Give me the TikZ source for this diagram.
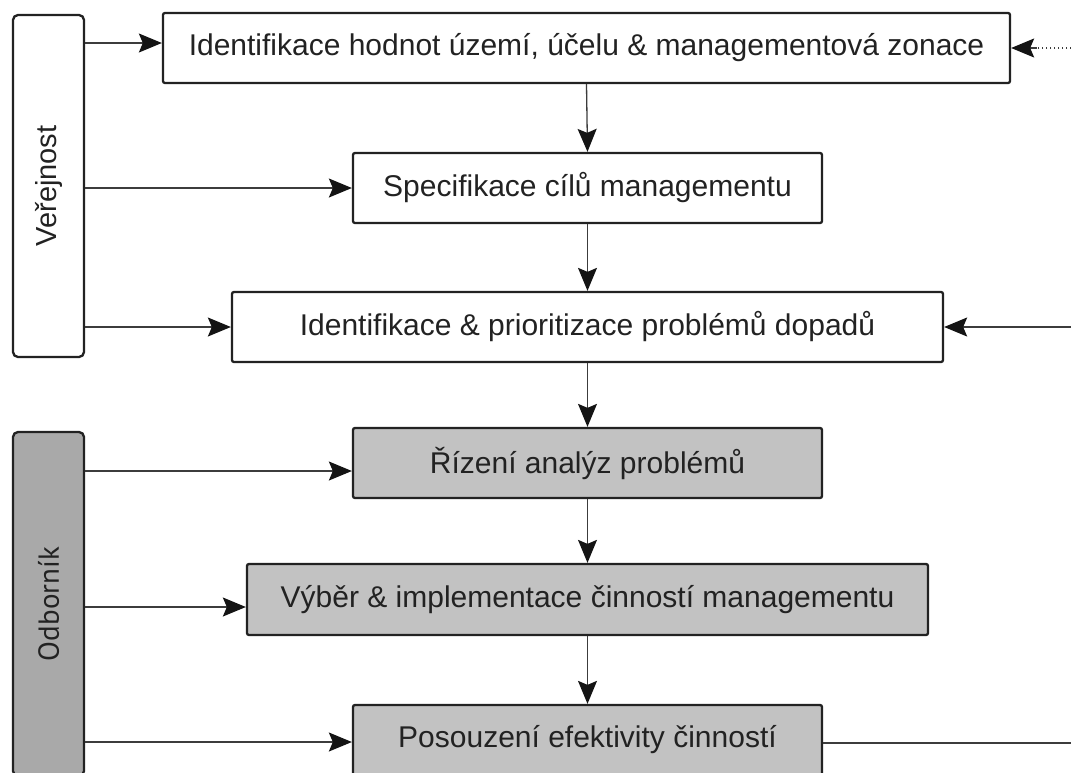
\documentclass[tikz,border=0pt]{standalone}
\usepackage{fontspec}
\setmainfont{Liberation Sans}
\newfontfamily\sidefont{PT Sans}
\usetikzlibrary{arrows.meta}
\definecolor{ink}{HTML}{222222}
\definecolor{boxgray}{HTML}{C2C2C2}
\definecolor{sidegray}{HTML}{A9A9A9}
\definecolor{wirecol}{HTML}{3C3C3C}
\definecolor{tipcol}{HTML}{141414}
\begin{document}
\begin{tikzpicture}[x=1pt,y=-1pt,
  every node/.style={font=\fontsize{30}{35}\selectfont, text=ink},
  stepbox/.style={draw=ink, line width=2.3pt, rounded corners=2pt, inner sep=0pt, fill=white, minimum height=70pt},
  graybox/.style={stepbox, fill=boxgray},
  sidebox/.style={draw=ink, line width=2.3pt, rounded corners=5pt, inner sep=0pt, minimum width=71pt},
  arr/.style={draw=wirecol, line width=1.3pt, -{Stealth[length=23pt,width=19pt,inset=4pt,color=tipcol]}},
  wire/.style={draw=wirecol, line width=1.3pt},
  dotwire/.style={draw=wirecol, line width=1.1pt, dash pattern=on 1.5pt off 2.5pt}
]
\clip (0,0) rectangle (1071,772);
\fill[white] (0,0) rectangle (1071,772);

% side panels
\node[sidebox, fill=white, minimum height=342pt, font=\fontsize{29}{34}\selectfont] (pub) at (48.5,186)
  {\rotatebox{90}{Veřejnost}};
\node[sidebox, fill=sidegray, minimum height=344pt, font=\fontsize{29}{34}\selectfont] (odb) at (48.5,604)
  {\rotatebox{90}{\sidefont Odborník}};

% process steps
\node[stepbox, minimum width=847pt] (b1) at (586.5,48)
  {Identifikace hodnot území, účelu \& managementová zonace};
\node[stepbox, minimum width=469pt] (b2) at (587.5,188)
  {Specifikace cílů managementu};
\node[stepbox, minimum width=711pt] (b3) at (587.5,327)
  {Identifikace \& prioritizace problémů dopadů};
\node[graybox, minimum width=469pt] (b4) at (587.5,463)
  {Řízení analýz problémů};
\node[graybox, minimum width=681pt, minimum height=71pt] (b5) at (587.5,599.5)
  {Výběr \& implementace činností managementu};
\node[graybox, minimum width=469pt] (b6) at (587.5,740)
  {Posouzení efektivity činností};

% flow down the chain
\draw[arr] (b1.south) -- (b2.north);
\draw[arr] (b2.south) -- (b3.north);
\draw[arr] (b3.south) -- (b4.north);
\draw[arr] (b4.south) -- (b5.north);
\draw[arr] (b5.south) -- (b6.north);

% inputs from the side panels
\coordinate (in1) at ([yshift=5pt]b1.west);
\coordinate (in4) at ([yshift=-8pt]b4.west);
\coordinate (in5) at ([yshift=-7.5pt]b5.west);
\coordinate (in6) at ([yshift=-2pt]b6.west);
\draw[arr] (in1 -| pub.east) -- (in1);
\draw[arr] (b2.west -| pub.east) -- (b2.west);
\draw[arr] (b3.west -| pub.east) -- (b3.west);
\draw[arr] (in4 -| odb.east) -- (in4);
\draw[arr] (in5 -| odb.east) -- (in5);
\draw[arr] (in6 -| odb.east) -- (in6);

% feedback on the right
\coordinate (r1) at (1075,48);
\coordinate (r3) at (1075,327);
\coordinate (r6) at (1075,743);
\draw[dotwire] (r1) -- ([xshift=26pt]b1.east);
\draw[arr] ([xshift=26pt]b1.east) -- (b1.east);
\draw[arr] (r3) -- (b3.east);
\draw[wire] (b6.east |- r6) -- (r6);
\end{tikzpicture}
\end{document}
